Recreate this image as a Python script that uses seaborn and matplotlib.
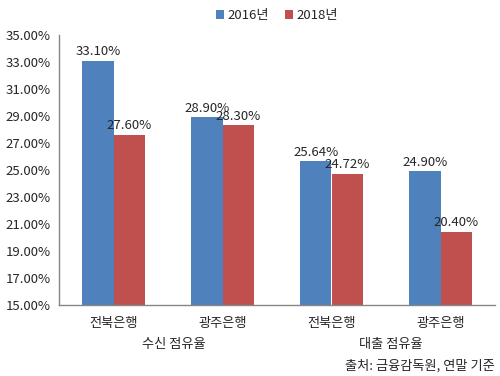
import pandas as pd
import matplotlib.pyplot as plt
import seaborn as sns

banks = ['전북은행', '광주은행', '전북은행', '광주은행']
groups = ['수신 점유율', '대출 점유율']
years = ['2016년', '2018년']
share_2016 = [33.10, 28.90, 25.64, 24.90]
share_2018 = [27.60, 28.30, 24.72, 20.40]


def main():
    keys = [f'{i}' for i in range(len(banks))]
    df = pd.DataFrame({
        'key': keys * 2,
        'year': [years[0]] * len(banks) + [years[1]] * len(banks),
        'share': share_2016 + share_2018,
    })

    sns.set_theme(style="white")
    plt.rcParams['font.family'] = ['Noto Sans CJK KR', 'DejaVu Sans']

    fig = plt.figure(figsize=(5, 3.76), dpi=100)
    ax = fig.add_axes([0.118, 0.189, 0.872, 0.718])

    sns.barplot(data=df, x='key', y='share', hue='year', ax=ax,
                palette={'2016년': '#4F81BD', '2018년': '#C0504D'},
                width=0.57, saturation=1, linewidth=0, legend=True)

    for cont in ax.containers:
        ax.bar_label(cont, fmt='%.2f%%', fontsize=9.5, padding=2)

    ax.set_ylim(15, 35)
    ax.set_yticks(range(15, 36, 2))
    ax.set_yticklabels([f'{v:.2f}%' for v in range(15, 36, 2)], fontsize=9.5)
    ax.set_xlim(-0.5, len(banks) - 0.5)
    ax.set_xticks(range(len(banks)))
    ax.set_xticklabels(banks, fontsize=9.5)
    ax.set_xticks([i - 0.5 for i in range(len(banks) + 1)], minor=True)
    ax.tick_params(axis='x', which='major', length=0, pad=9)
    ax.tick_params(axis='x', which='minor', length=5, color='#868686', direction='out')
    ax.tick_params(axis='y', length=4, color='#868686', direction='out', pad=2)
    ax.set_xlabel('')
    ax.set_ylabel('')

    for s in ['top', 'right']:
        ax.spines[s].set_visible(False)
    for s in ['left', 'bottom']:
        ax.spines[s].set_color('#868686')
        ax.spines[s].set_linewidth(1)

    # 상위 그룹 라벨
    fig.text(0.347, 0.083, groups[0], fontsize=9.5, ha='center', va='center')
    fig.text(0.781, 0.083, groups[1], fontsize=9.5, ha='center', va='center')
    fig.text(0.99, 0.028, '출처: 금융감독원, 연말 기준', fontsize=9.5,
             ha='right', va='center')

    ax.legend(loc='upper center', bbox_to_anchor=(0.5, 1.14), ncol=2,
              frameon=False, fontsize=9.5, handlelength=0.6, handleheight=0.6,
              handletextpad=0.3, columnspacing=1.2)

    fig.savefig('out.png', dpi=100, facecolor='white')


if __name__ == "__main__":
    main()
